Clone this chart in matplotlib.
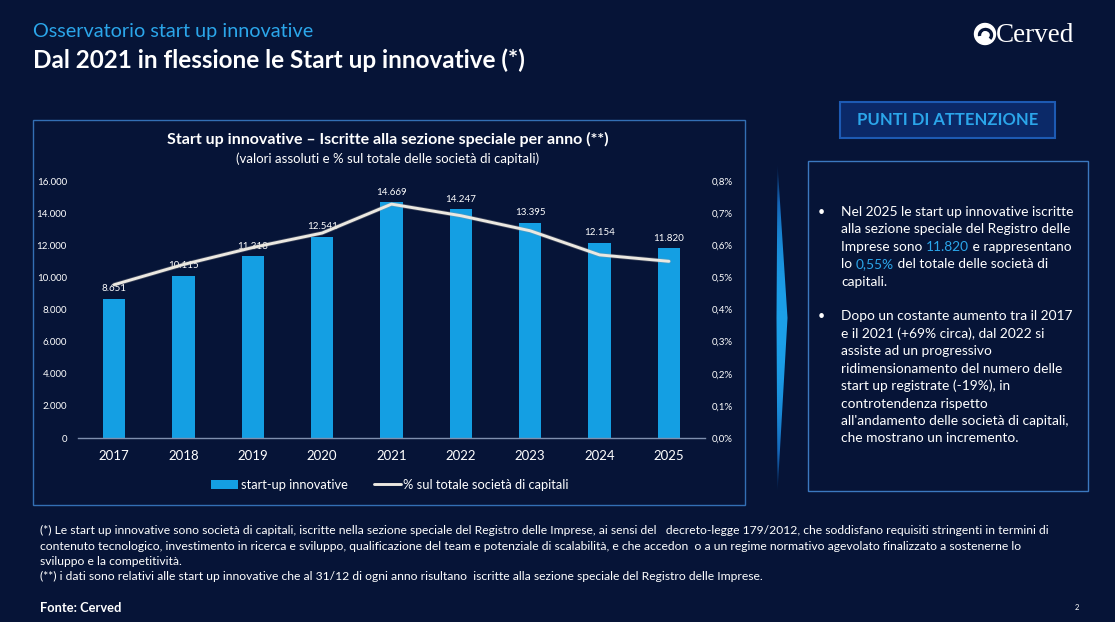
import matplotlib
matplotlib.use("Agg")
import matplotlib.pyplot as plt
import numpy as np
from matplotlib.patches import Rectangle, Polygon, Circle, Arc
from matplotlib.ticker import FuncFormatter, MultipleLocator
from matplotlib.colors import LinearSegmentedColormap

# ---------------- data ----------------
years = ["2017", "2018", "2019", "2020", "2021", "2022", "2023", "2024", "2025"]
startups = [8651, 10115, 11318, 12541, 14669, 14247, 13395, 12154, 11820]
pct_capitali = [0.477, 0.54, 0.593, 0.638, 0.728, 0.692, 0.645, 0.57, 0.55]
bar_labels = ["8.651", "10.115", "11.318", "12.541", "14.669", "14.247", "13.395", "12.154", "11.820"]

BG = "#061437"
BLUE_BAR = "#149fe3"
LIGHT_BLUE = "#2ba6ea"
WHITE = "#ffffff"
LINE_C = "#ebe8e1"
FONT = "Lato"

plt.rcParams["font.family"] = [FONT, "DejaVu Sans"]

W, H = 1115, 622
fig = plt.figure(figsize=(W / 100, H / 100), dpi=100, facecolor=BG)

bg = fig.add_axes([0, 0, 1, 1], zorder=0)
bg.set_xlim(0, W)
bg.set_ylim(H, 0)
bg.axis("off")
bg.set_facecolor(BG)

# Header
bg.text(33, 31, "Osservatorio start up innovative", color=LIGHT_BLUE, fontsize=14.3,
        va="center", ha="left")
bg.text(33, 60, "Dal 2021 in flessione le Start up innovative (*)", color=WHITE,
        fontsize=17.5, fontweight="bold", va="center", ha="left")

# Cerved logo
bg.add_patch(Circle((985, 34), 10.5, color=WHITE, zorder=2))
bg.add_patch(Arc((985.5, 35), 12, 11, theta1=170, theta2=400, color=BG, lw=2.4, zorder=3))
bg.add_patch(Circle((985, 34), 2.2, color=WHITE, zorder=4))
bg.text(996, 35, "Cerved", color=WHITE, fontsize=19.5, family="Liberation Serif",
        va="center", ha="left")

# Chart frame
bg.add_patch(Rectangle((33, 120), 712, 385, fill=False, edgecolor="#336fb4", lw=1.0))

# Chart title
bg.text(388, 139, "Start up innovative \u2013 Iscritte alla sezione speciale per anno (**)",
        color=WHITE, fontsize=11.5, fontweight="bold", ha="center", va="center")
bg.text(388, 159, "(valori assoluti e % sul totale delle società di capitali)",
        color=WHITE, fontsize=9.5, ha="center", va="center")

# PUNTI DI ATTENZIONE box
bg.add_patch(Rectangle((840, 102), 215, 36, facecolor="#0b2968", edgecolor="#1d5ab3", lw=1.5))
bg.text(947.5, 120, "PUNTI DI ATTENZIONE", color=LIGHT_BLUE, fontsize=12,
        fontweight="bold", ha="center", va="center")

# Right text box
bg.add_patch(Rectangle((808, 161), 280, 330, fill=False, edgecolor="#3b78bf", lw=1.0))

# Chevron with gradient
chev = Polygon([(777.5, 163), (787.5, 318), (777.5, 493), (776.5, 318)], closed=True,
               facecolor="none", edgecolor="none")
bg.add_patch(chev)
grad = np.abs(np.linspace(-1, 1, 200))[:, None]
grad = 1 - grad ** 2.5
cmap = LinearSegmentedColormap.from_list("chev", [BG, "#1566b8", "#1c9fe8"])
im = bg.imshow(np.repeat(grad, 4, axis=1), extent=(775, 790, 493, 163), cmap=cmap,
               aspect="auto", zorder=1, interpolation="bilinear")
im.set_clip_path(chev)
bg.set_xlim(0, W)
bg.set_ylim(H, 0)


def rich_line(x, y, parts, size=9.9):
    renderer = fig.canvas.get_renderer()
    cx = x
    for txt, col in parts:
        t = bg.text(cx, y, txt, color=col, fontsize=size, ha="left", va="center")
        bb = t.get_window_extent(renderer=renderer)
        cx += bb.width


bullet_lines_1 = [
    [("Nel 2025 le start up innovative iscritte", WHITE)],
    [("alla sezione speciale del Registro delle", WHITE)],
    [("Imprese sono ", WHITE), ("11.820", LIGHT_BLUE), (" e rappresentano", WHITE)],
    [("lo ", WHITE), ("0,55%", LIGHT_BLUE), (" del totale delle società di", WHITE)],
    [("capitali.", WHITE)],
]
bullet_lines_2 = [
    "Dopo un costante aumento tra il 2017",
    "e il 2021 (+69% circa), dal 2022 si",
    "assiste ad un progressivo",
    "ridimensionamento del numero delle",
    "start up registrate (-19%), in",
    "controtendenza rispetto",
    "all'andamento delle società di capitali,",
    "che mostrano un incremento.",
]
ls = 17.4
y0 = 212
bg.text(818, y0, "\u2022", color=WHITE, fontsize=9, ha="left", va="center")
for i, parts in enumerate(bullet_lines_1):
    rich_line(841, y0 + i * ls, parts)
y1 = 316.5
bg.text(818, y1, "\u2022", color=WHITE, fontsize=9, ha="left", va="center")
for i, line in enumerate(bullet_lines_2):
    rich_line(841, y1 + i * ls, [(line, WHITE)])

# Footer
foot = [
    "(*) Le start up innovative sono società di capitali, iscritte nella sezione speciale del Registro delle Imprese, ai sensi del   decreto-legge 179/2012, che soddisfano requisiti stringenti in termini di",
    "contenuto tecnologico, investimento in ricerca e sviluppo, qualificazione del team e potenziale di scalabilità, e che accedon  o a un regime normativo agevolato finalizzato a sostenerne lo",
    "sviluppo e la competitività.",
    "(**) i dati sono relativi alle start up innovative che al 31/12 di ogni anno risultano  iscritte alla sezione speciale del Registro delle Imprese.",
]
for yy, line in zip([530.5, 546, 561.5, 576.5], foot):
    bg.text(40, yy, line, color=WHITE, fontsize=8.75, ha="left", va="center")
bg.text(40, 608.5, "Fonte: Cerved", color=WHITE, fontsize=9.3, fontweight="bold",
        ha="left", va="center")
bg.text(1077, 607, "2", color=WHITE, fontsize=5.5, ha="center", va="center")

# ---------------- chart ----------------
ax = fig.add_axes([78 / W, (H - 438) / H, 627 / W, 257 / H], zorder=2)
ax.set_facecolor("none")
x = np.arange(len(years))
bars = ax.bar(x, startups, width=0.32, color=BLUE_BAR, zorder=2, label="start-up innovative")
ax.set_xlim(-0.52, 8.52)
ax.set_ylim(0, 16000)
ax.yaxis.set_major_locator(MultipleLocator(2000))
ax.yaxis.set_major_formatter(FuncFormatter(lambda v, p: f"{int(v):,}".replace(",", ".")))
ax.set_xticks(x)
ax.set_xticklabels(years)
for s in ["top", "right", "left"]:
    ax.spines[s].set_visible(False)
ax.spines["bottom"].set_color("#7f8fae")
ax.spines["bottom"].set_linewidth(1.0)
ax.tick_params(axis="y", length=0, pad=8, labelsize=7, labelcolor=WHITE)
ax.tick_params(axis="x", length=0, pad=9, labelsize=9.5, labelcolor=WHITE)

for xi, v, lab in zip(x, startups, bar_labels):
    ax.annotate(lab, (xi, v), xytext=(0, 4), textcoords="offset points",
                ha="center", va="bottom", fontsize=7, color=WHITE, zorder=4)

ax2 = ax.twinx()
ax2.set_ylim(0, 0.8)
ax2.yaxis.set_major_locator(MultipleLocator(0.1))
ax2.yaxis.set_major_formatter(FuncFormatter(lambda v, p: f"{v:.1f}%".replace(".", ",")))
for s in ["top", "right", "left", "bottom"]:
    ax2.spines[s].set_visible(False)
ax2.tick_params(axis="y", length=0, pad=5, labelsize=7, labelcolor=WHITE)
ax2.plot(x, pct_capitali, color="#9a9a9a", lw=3.2, alpha=0.35, zorder=2,
         solid_capstyle="round")
line, = ax2.plot(x, pct_capitali, color=LINE_C, lw=2.1, zorder=3,
                 solid_capstyle="round", label="% sul totale società di capitali")

fig.legend([bars, line], ["start-up innovative", "% sul totale società di capitali"],
           loc="center", bbox_to_anchor=(390 / W, 1 - 485 / H), ncol=2,
           frameon=False, fontsize=9.3, labelcolor=WHITE, handlelength=2.1,
           handletextpad=0.2, columnspacing=2.0, handleheight=0.8)

fig.savefig("out.png", dpi=100, facecolor=BG)
